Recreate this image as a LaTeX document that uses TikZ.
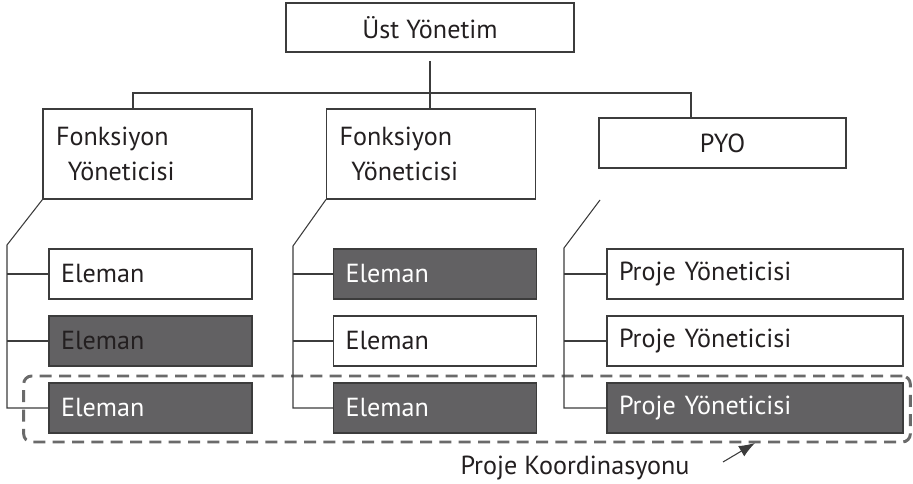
\documentclass[tikz,border=0pt]{standalone}
\usepackage{fontspec}
\setmainfont{PT Sans}
\usetikzlibrary{arrows.meta}
\definecolor{cizgi}{HTML}{3C3C3C}
\definecolor{koyugri}{HTML}{626163}
\definecolor{yazi}{HTML}{231F20}
\definecolor{kesik}{HTML}{6A6A6A}
\tikzset{
  kutu/.style={draw=cizgi, line width=0.8pt, text=yazi, font=\fontsize{19.6}{26.5}\selectfont, minimum height=37.5pt, inner ysep=0pt},
  eleman/.style={kutu, inner xsep=9pt, text width=134.25pt, align=left},
  proje/.style={kutu, inner xsep=9pt, text width=204pt, align=left},
  koyu/.style={fill=koyugri, text=white},
  fonk/.style={kutu, inner xsep=9.75pt, text width=137.25pt, minimum height=67.5pt, align=left},
  cerceve/.style={draw=kesik, line width=2.2pt, dash pattern=on 9pt off 5.5pt, rounded corners=6pt, minimum width=665pt, minimum height=49.5pt}
}
\begin{document}
\begin{tikzpicture}[x=0.75pt, y=-0.75pt]
            \useasboundingbox (0,0) rectangle (913,484);
            \node[cerceve] (koord) at (467,409) {};
            \node[kutu, minimum width=216pt, minimum height=36.75pt] (ust) at (430,27.5) {Üst Yönetim};
            \node[fonk] (fy1) at (147.5,154) {Fonksiyon\\\hspace{0.45em}Yöneticisi};
            \node[fonk] (fy2) at (431,154) {Fonksiyon\\\hspace{0.45em}Yöneticisi};
            \node[kutu, minimum width=185.25pt] (pyo) at (722.5,143) {PYO};
            \node[eleman] (e11) at (150.5,274) {Eleman};
            \node[eleman, koyu, text=yazi] (e12) at (150.5,341) {Eleman};
            \node[eleman, koyu] (e13) at (150.5,408) {Eleman};
            \node[eleman, koyu] (e21) at (435,274) {Eleman};
            \node[eleman] (e22) at (435,341) {Eleman};
            \node[eleman, koyu] (e23) at (435,408) {Eleman};
            \node[proje] (p1) at (755,274) {Proje Yöneticisi};
            \node[proje] (p2) at (755,341) {Proje Yöneticisi};
            \node[proje, koyu] (p3) at (755,408) {Proje Yöneticisi};
            \node[text=yazi, font=\fontsize{19.6}{22}\selectfont] (etiket) at (575,468) {Proje Koordinasyonu};
            \coordinate (u1) at (430,61);
            \coordinate (s1) at (133,93);
            \coordinate (s3) at (691,93);
            \coordinate (k1) at (7,245);
            \coordinate (k2) at (293,246);
            \coordinate (k3a) at (600,200);
            \coordinate (k3) at (564,248);
            \coordinate (okbas) at (723,462);
            \coordinate (okuc) at (755,443);
            \begin{scope}[draw=cizgi, line width=0.8pt]
            \draw (u1) -- (u1 |- fy2.north);
            \draw (s1 |- fy1.north) -- (s1) -- (s3) -- (s3 |- pyo.north);
            \draw (fy1.south west) -- (k1) -- (k1 |- e13) -- (e13.west);
            \draw (k1 |- e11) -- (e11.west);
            \draw (k1 |- e12) -- (e12.west);
            \draw (fy2.south west) -- (k2) -- (k2 |- e23) -- (e23.west);
            \draw (k2 |- e21) -- (e21.west);
            \draw (k2 |- e22) -- (e22.west);
            \draw (k3a) -- (k3) -- (k3 |- p3) -- (p3.west);
            \draw (k3 |- p1) -- (p1.west);
            \draw (k3 |- p2) -- (p2.west);
            \draw[-{Latex[length=12pt, width=9pt]}] (okbas) -- (okuc);
            \end{scope}
        \end{tikzpicture}
\end{document}
